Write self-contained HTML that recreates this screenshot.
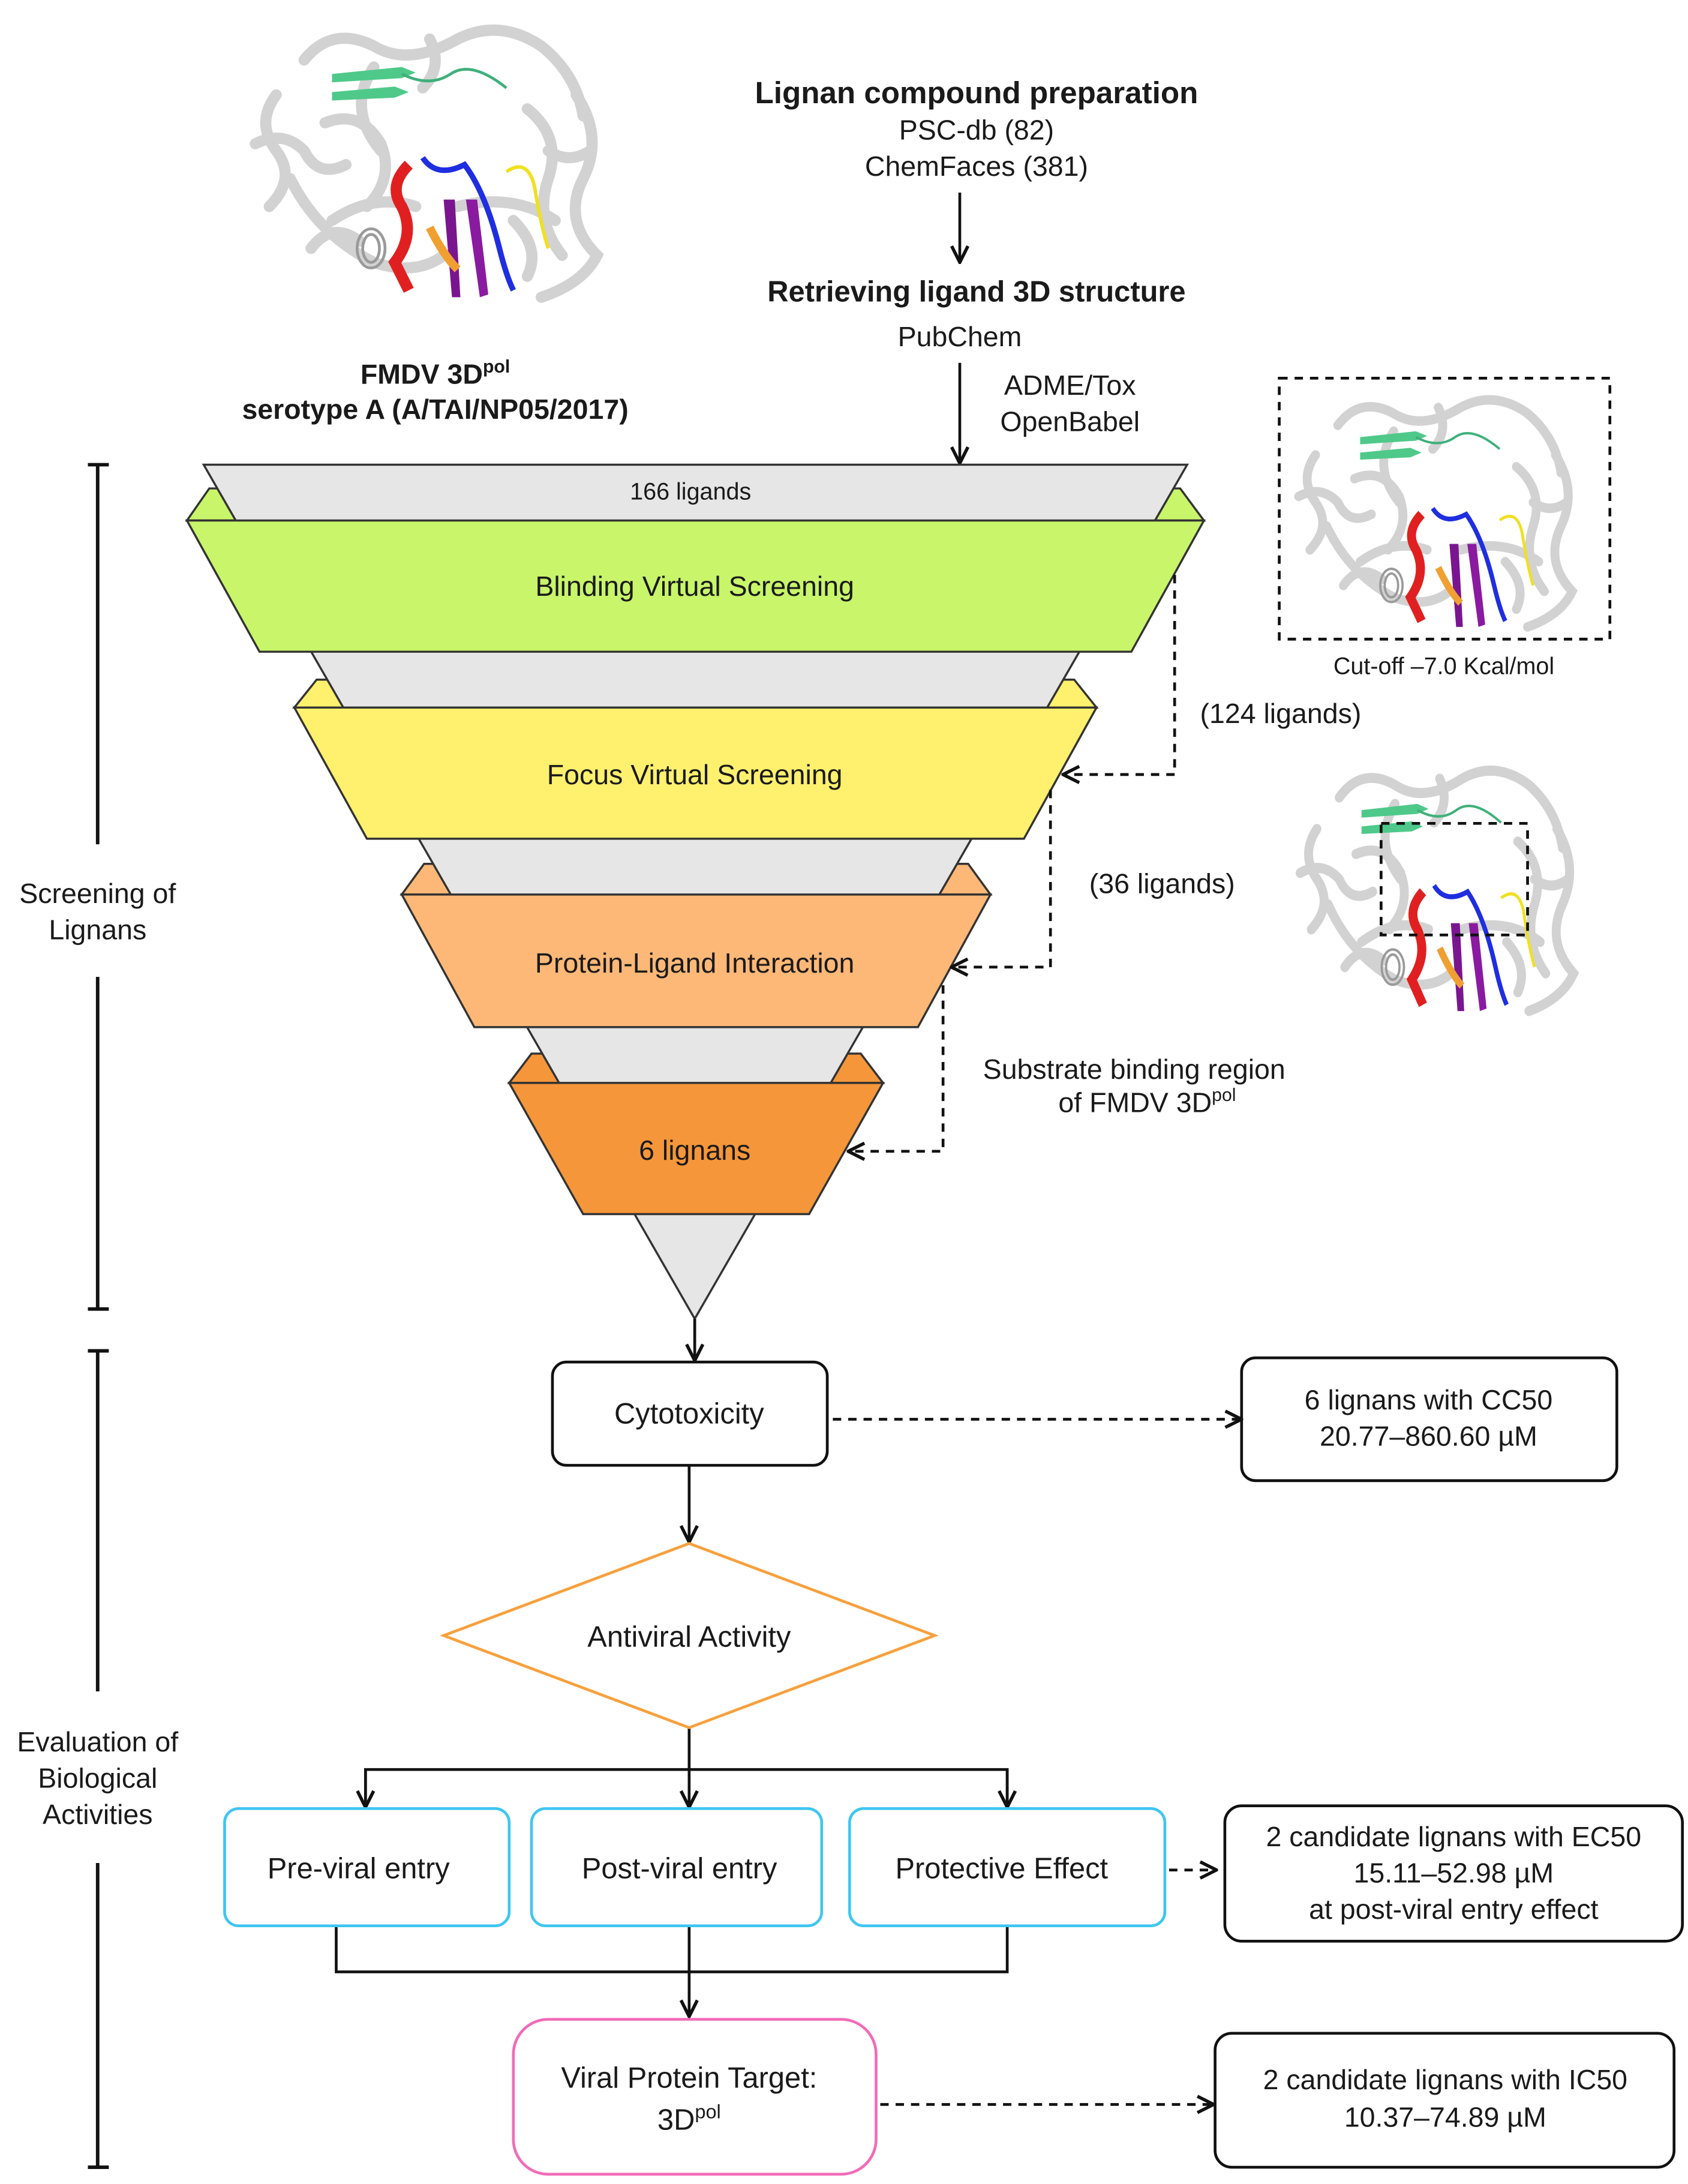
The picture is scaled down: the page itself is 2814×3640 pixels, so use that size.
<!DOCTYPE html>
<html><head><meta charset="utf-8"><style>
html,body{margin:0;padding:0;background:#fff}
svg{display:block}
text{font-family:"Liberation Sans",Arial,sans-serif;fill:#1a1a1a}
</style></head><body>
<svg width="2814" height="3640" viewBox="0 0 1210 1565" preserveAspectRatio="none" xmlns="http://www.w3.org/2000/svg">
<defs>
<marker id="ah" viewBox="0 0 12 12" refX="11" refY="6" markerWidth="14" markerHeight="14" markerUnits="userSpaceOnUse" orient="auto">
<path d="M1,1 L11,6 L1,11" fill="none" stroke="#111" stroke-width="2"/></marker>
<g id="prot">
<g fill="none" stroke="#d2d2d2" stroke-width="8" stroke-linecap="round">
<path d="M20,60 q-15,20 0,40 q15,20 -5,40"/>
<path d="M40,35 q20,-25 50,-10 q25,15 60,-5 q30,-15 60,5 q25,20 30,50"/>
<path d="M235,60 q20,30 5,60 q-15,30 10,55 q-10,20 -40,30"/>
<path d="M30,120 q20,40 60,60 q30,10 50,-5"/>
<path d="M55,80 q25,-10 40,15 q10,25 -10,45"/>
<path d="M200,70 q25,20 15,50 q-10,30 10,55"/>
<path d="M60,150 q30,-20 60,-10"/>
<path d="M150,140 q40,-10 70,10"/>
<path d="M90,40 q-20,30 5,60"/>
<path d="M5,95 q20,-10 35,5 q10,20 30,10"/>
<path d="M215,100 q15,10 30,0"/>
<path d="M190,150 q20,20 10,40"/>
<path d="M45,170 q15,-20 35,-5"/>
<path d="M130,20 q10,20 -5,35"/>
</g>
<g fill="none" stroke="#9a9a9a" stroke-width="2">
<ellipse cx="88" cy="170" rx="10" ry="14"/><ellipse cx="88" cy="170" rx="6" ry="10"/>
</g>
<path d="M60,45 l50,-5 l10,4 l-10,4 l-50,3z" fill="#4fc98a"/>
<path d="M60,58 l45,-4 l10,4 l-10,4 l-45,2z" fill="#4fc98a"/>
<path d="M110,45 q20,10 35,0 q15,-10 40,10" fill="none" stroke="#3fb07a" stroke-width="2"/>
<path d="M115,110 q-15,15 -5,30 q10,20 -5,40 q5,10 10,20" fill="none" stroke="#e02020" stroke-width="8"/>
<path d="M125,105 q10,15 30,5 q15,20 25,60 q5,20 10,30" fill="none" stroke="#1f2ee0" stroke-width="4"/>
<path d="M140,135 l6,70 l6,0 l-4,-70z" fill="#7a1590"/>
<path d="M156,135 l10,70 l6,-2 l-8,-68z" fill="#8a1aa0"/>
<path d="M130,155 q10,20 20,30" fill="none" stroke="#f0a030" stroke-width="6"/>
<path d="M185,115 q15,-10 20,10 q5,30 10,45" fill="none" stroke="#f0e020" stroke-width="2.5"/>
</g>
</defs>

<use href="#prot" x="178" y="8"/>
<text x="312" y="275" font-size="20" font-weight="bold" text-anchor="middle">FMDV 3D<tspan font-size="13" dy="-8">pol</tspan></text>
<text x="312" y="300" font-size="20" font-weight="bold" text-anchor="middle">serotype A (A/TAI/NP05/2017)</text>

<text x="700" y="74" font-size="22" font-weight="bold" text-anchor="middle">Lignan compound preparation</text>
<text x="700" y="100" font-size="20" text-anchor="middle">PSC-db (82)</text>
<text x="700" y="126" font-size="20" text-anchor="middle">ChemFaces (381)</text>
<line x1="688" y1="138" x2="688" y2="188" stroke="#111" stroke-width="2" marker-end="url(#ah)"/>
<text x="700" y="216" font-size="21" font-weight="bold" text-anchor="middle">Retrieving ligand 3D structure</text>
<text x="688" y="248" font-size="20" text-anchor="middle">PubChem</text>
<line x1="688" y1="260" x2="688" y2="332" stroke="#111" stroke-width="2" marker-end="url(#ah)"/>
<text x="767" y="283" font-size="20" text-anchor="middle">ADME/Tox</text>
<text x="767" y="309" font-size="20" text-anchor="middle">OpenBabel</text>

<g stroke="#333" stroke-width="1.5">
<polygon points="150,350 846,350 863,373 134,373" fill="#c8f56a"/>
<polygon points="227,487 770,487 786,507 211,507" fill="#fff06e"/>
<polygon points="304,619 694,619 710,641 288,641" fill="#fdb877"/>
<polygon points="381,755 617,755 633,776 365,776" fill="#f5963a"/>
<polygon points="146,333 851,333 498,945" fill="#e6e6e6"/>
<polygon points="134,373 863,373 811,467 186,467" fill="#c8f56a"/>
<polygon points="211,507 786,507 734,601 263,601" fill="#fff06e"/>
<polygon points="288,641 710,641 658,736 340,736" fill="#fdb877"/>
<polygon points="365,776 633,776 580,870 418,870" fill="#f5963a"/>
</g>
<text x="495" y="358" font-size="17" text-anchor="middle">166 ligands</text>
<text x="498" y="427" font-size="20" text-anchor="middle">Blinding Virtual Screening</text>
<text x="498" y="562" font-size="20" text-anchor="middle">Focus Virtual Screening</text>
<text x="498" y="697" font-size="20" text-anchor="middle">Protein-Ligand Interaction</text>
<text x="498" y="831" font-size="20" text-anchor="middle">6 lignans</text>

<g fill="none" stroke="#111" stroke-width="2" stroke-dasharray="6,5">
<polyline points="842,412 842,555 762,555" marker-end="url(#ah)"/>
<polyline points="753,566 753,693 682,693" marker-end="url(#ah)"/>
<polyline points="676,706 676,825 608,825" marker-end="url(#ah)"/>
<rect x="917" y="271" width="237" height="187"/>
</g>
<text x="918" y="518" font-size="20" text-anchor="middle">(124 ligands)</text>
<text x="833" y="640" font-size="20" text-anchor="middle">(36 ligands)</text>
<text x="813" y="773" font-size="20" text-anchor="middle">Substrate binding region</text>
<text x="886" y="797" font-size="20" text-anchor="end">of FMDV 3D<tspan font-size="13" dy="-8">pol</tspan></text>

<use href="#prot" transform="translate(927,275) scale(0.8,0.85)"/>
<text x="1035" y="483" font-size="17" text-anchor="middle">Cut-off –7.0 Kcal/mol</text>
<use href="#prot" transform="translate(928,540) scale(0.8,0.9)"/>
<rect x="990" y="590" width="105" height="80" fill="none" stroke="#111" stroke-width="2" stroke-dasharray="6,5"/>

<g stroke="#111" stroke-width="2.5">
<line x1="70" y1="333" x2="70" y2="605"/><line x1="70" y1="700" x2="70" y2="938"/>
<line x1="63" y1="333" x2="78" y2="333"/><line x1="63" y1="938" x2="78" y2="938"/>
<line x1="70" y1="968" x2="70" y2="1212"/><line x1="70" y1="1335" x2="70" y2="1553"/>
<line x1="63" y1="968" x2="78" y2="968"/><line x1="63" y1="1553" x2="78" y2="1553"/>
</g>
<text x="70" y="647" font-size="20" text-anchor="middle">Screening of</text>
<text x="70" y="673" font-size="20" text-anchor="middle">Lignans</text>
<text x="70" y="1255" font-size="20" text-anchor="middle">Evaluation of</text>
<text x="70" y="1281" font-size="20" text-anchor="middle">Biological</text>
<text x="70" y="1307" font-size="20" text-anchor="middle">Activities</text>

<g stroke="#111" stroke-width="2" fill="none">
<line x1="498" y1="945" x2="498" y2="975" marker-end="url(#ah)"/>
<rect x="396" y="976" width="197" height="74" rx="10" fill="#fff"/>
<line x1="597" y1="1017" x2="890" y2="1017" stroke-dasharray="6,5" marker-end="url(#ah)"/>
<rect x="890" y="973" width="269" height="88" rx="10"/>
<line x1="494" y1="1050" x2="494" y2="1105" marker-end="url(#ah)"/>
<polyline points="494,1238 494,1268"/>
<polyline points="262,1294 262,1268 722,1268 722,1294"/>
<line x1="262" y1="1268" x2="262" y2="1295" marker-end="url(#ah)"/>
<line x1="494" y1="1268" x2="494" y2="1295" marker-end="url(#ah)"/>
<line x1="722" y1="1268" x2="722" y2="1295" marker-end="url(#ah)"/>
<polyline points="241,1381 241,1413 722,1413 722,1381"/>
<line x1="494" y1="1381" x2="494" y2="1445" marker-end="url(#ah)"/>
<line x1="838" y1="1340" x2="872" y2="1340" stroke-dasharray="6,5" marker-end="url(#ah)"/>
<rect x="878" y="1294" width="328" height="97" rx="12"/>
<line x1="631" y1="1508" x2="870" y2="1508" stroke-dasharray="6,5" marker-end="url(#ah)"/>
<rect x="871" y="1457" width="329" height="96" rx="12"/>
</g>
<polygon points="494,1106 670,1172 494,1238 318,1172" fill="#fff" stroke="#f7a03c" stroke-width="2"/>
<g fill="#fff" stroke="#3fc6f0" stroke-width="2">
<rect x="161" y="1296" width="204" height="84" rx="10"/>
<rect x="381" y="1296" width="208" height="84" rx="10"/>
<rect x="609" y="1296" width="226" height="84" rx="10"/>
</g>
<rect x="368" y="1447" width="260" height="111" rx="25" fill="#fff" stroke="#f06cb8" stroke-width="2"/>

<text x="494" y="1020" font-size="21" text-anchor="middle">Cytotoxicity</text>
<text x="1024" y="1010" font-size="20" text-anchor="middle">6 lignans with CC50</text>
<text x="1024" y="1036" font-size="20" text-anchor="middle">20.77–860.60 µM</text>
<text x="494" y="1180" font-size="21" text-anchor="middle">Antiviral Activity</text>
<text x="257" y="1346" font-size="21" text-anchor="middle">Pre-viral entry</text>
<text x="487" y="1346" font-size="21" text-anchor="middle">Post-viral entry</text>
<text x="718" y="1346" font-size="21" text-anchor="middle">Protective Effect</text>
<text x="1042" y="1323" font-size="20" text-anchor="middle">2 candidate lignans with EC50</text>
<text x="1042" y="1349" font-size="20" text-anchor="middle">15.11–52.98 µM</text>
<text x="1042" y="1375" font-size="20" text-anchor="middle">at post-viral entry effect</text>
<text x="494" y="1496" font-size="21" text-anchor="middle">Viral Protein Target:</text>
<text x="494" y="1526" font-size="21" text-anchor="middle">3D<tspan font-size="14" dy="-8">pol</tspan></text>
<text x="1036" y="1497" font-size="20" text-anchor="middle">2 candidate lignans with IC50</text>
<text x="1036" y="1524" font-size="20" text-anchor="middle">10.37–74.89 µM</text>
</svg>
</body></html>
